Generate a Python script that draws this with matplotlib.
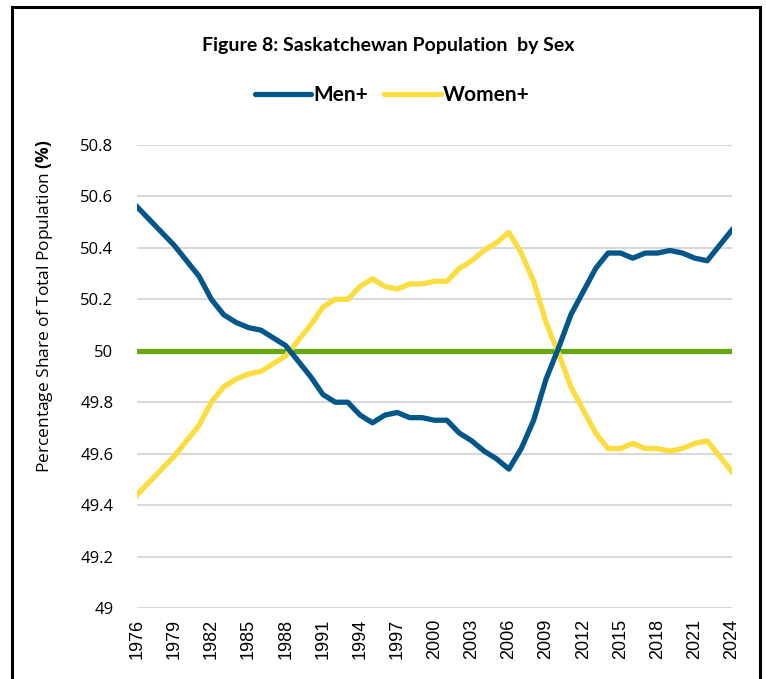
import matplotlib
matplotlib.use("Agg")
import matplotlib.pyplot as plt
from matplotlib.lines import Line2D

# Data
years = list(range(1976, 2025))
men = [50.56, 50.51, 50.46, 50.41, 50.35, 50.29, 50.20, 50.14, 50.11, 50.09,
       50.08, 50.05, 50.02, 49.96, 49.90, 49.83, 49.80, 49.80, 49.75, 49.72,
       49.75, 49.76, 49.74, 49.74, 49.73, 49.73, 49.68, 49.65, 49.61, 49.58,
       49.54, 49.62, 49.73, 49.89, 50.01, 50.14, 50.23, 50.32, 50.38, 50.38,
       50.36, 50.38, 50.38, 50.39, 50.38, 50.36, 50.35, 50.41, 50.47]
women = [49.44, 49.49, 49.54, 49.59, 49.65, 49.71, 49.80, 49.86, 49.89, 49.91,
         49.92, 49.95, 49.98, 50.04, 50.10, 50.17, 50.20, 50.20, 50.25, 50.28,
         50.25, 50.24, 50.26, 50.26, 50.27, 50.27, 50.32, 50.35, 50.39, 50.42,
         50.46, 50.38, 50.27, 50.11, 49.99, 49.86, 49.77, 49.68, 49.62, 49.62,
         49.64, 49.62, 49.62, 49.61, 49.62, 49.64, 49.65, 49.59, 49.53]
parity = 50
year_ticks = list(range(1976, 2025, 3))
y_ticks = [49, 49.2, 49.4, 49.6, 49.8, 50, 50.2, 50.4, 50.6, 50.8]
y_labels = ['49', '49.2', '49.4', '49.6', '49.8', '50', '50.2', '50.4', '50.6', '50.8']

BLUE = '#02568A'
YELLOW = '#FCDD3F'
GREEN = '#67A70F'

plt.rcParams['mathtext.fontset'] = 'custom'
plt.rcParams['mathtext.bf'] = 'Open Sans:bold'
plt.rcParams['mathtext.rm'] = 'Open Sans'

W, H = 766, 679
fig = plt.figure(figsize=(W / 100, H / 100), dpi=100)
ax = fig.add_axes([137 / W, 1 - 608 / H, (732 - 137) / W, (608 - 145) / H])

# Lines
ax.plot(years, [parity] * len(years), color=GREEN, lw=3.8, solid_capstyle='round', zorder=3)
ax.plot(years, women, color=YELLOW, lw=3.8, solid_joinstyle='round', zorder=4)
ax.plot(years, men, color=BLUE, lw=3.8, solid_joinstyle='round', zorder=5)

# Axes styling
ax.set_xlim(1976, 2024)
ax.set_ylim(49, 50.8)
ax.set_yticks(y_ticks)
ax.set_yticklabels(y_labels, fontname='Open Sans', fontsize=12)
ax.set_xticks(year_ticks)
ax.set_xticklabels([str(y) for y in year_ticks], rotation=90,
                   fontname='Liberation Sans', fontsize=13)
ax.tick_params(axis='y', length=0, pad=17)
ax.tick_params(axis='x', length=0, pad=8)
ax.grid(axis='y', color='#D9D9D9', lw=1.5)
ax.set_axisbelow(True)
for s in ax.spines.values():
    s.set_visible(False)

ax.set_ylabel(r'Percentage Share of Total Population $\mathbf{(\%)}$',
              fontname='Open Sans', fontsize=12.5, labelpad=14)
ax.yaxis.set_label_coords(-0.137, 0.652)

# Title and legend
fig.text(388 / W, 1 - 45 / H, 'Figure 8: Saskatchewan Population  by Sex',
         ha='center', va='center', fontname='Lato', fontweight='bold', fontsize=14)
handles = [Line2D([], [], color=BLUE, lw=3.8, solid_capstyle='round'),
           Line2D([], [], color=YELLOW, lw=3.8, solid_capstyle='round')]
fig.legend(handles, ['Men+', 'Women+'], loc='center', bbox_to_anchor=(392 / W, 1 - 95 / H),
           ncol=2, frameon=False, handlelength=2.7, handletextpad=0.1,
           columnspacing=0.8, prop={'family': 'Lato', 'weight': 'bold', 'size': 15})

# Outer frame (bottom edge lies outside the picture)
x0, x1, yt = 12 / W, 760 / W, 1 - 7 / H
fig.add_artist(Line2D([x0, x0, x1, x1], [0, yt, yt, 0], transform=fig.transFigure,
                      color='black', lw=2.2, solid_joinstyle='miter'))

fig.savefig('out.png', dpi=100)
